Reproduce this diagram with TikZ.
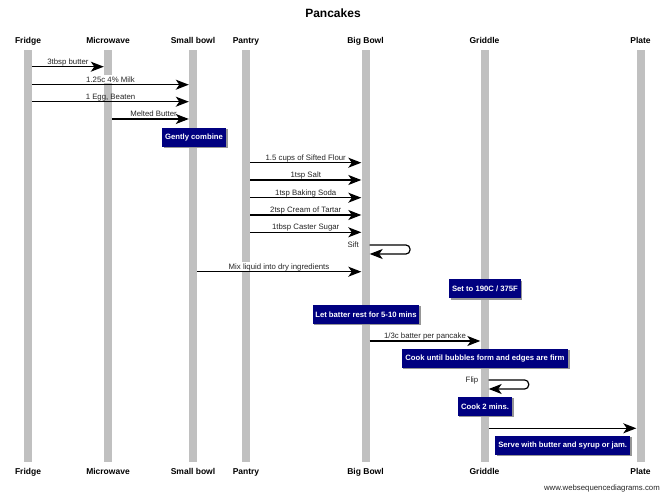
\documentclass[tikz,border=0pt]{standalone}
\usepackage{fontspec}
\setmainfont{Liberation Sans}
\usetikzlibrary{arrows.meta}
\definecolor{lifegray}{RGB}{192,192,192}
\definecolor{notenavy}{RGB}{0,0,128}
\definecolor{shadowgray}{RGB}{150,150,150}
\tikzset{
  lifeline/.style={rectangle,fill=lifegray,draw=none,minimum width=8pt,minimum height=412pt,inner sep=0pt},
  actorlabel/.style={font=\fontsize{8.5}{10}\selectfont\bfseries,inner sep=0pt,anchor=base},
  msg/.style={draw=black,line width=1.2pt,-{Stealth[length=13pt,width=10pt,inset=3.5pt]}},
  msglabel/.style={font=\fontsize{7.8}{9}\selectfont,inner sep=0pt,anchor=base,text=black!85},
  onmsg/.style={msglabel,yshift=2.6pt},
  msgbg/.style={msglabel,fill=white,inner sep=1pt},
  notebox/.style={rectangle,fill=notenavy,text=white,font=\fontsize{7.7}{9}\selectfont\bfseries,minimum height=19pt,inner sep=0pt},
  noteshadow/.style={fill=shadowgray,draw=none}
}
\begin{document}
\begin{tikzpicture}[x=1pt,y=-1pt]
\useasboundingbox (0,0) rectangle (665,497);
\fill[white] (0,0) rectangle (665,497);

% title
\node[font=\fontsize{12}{14}\selectfont\bfseries,inner sep=0pt,anchor=base] (title) at (333,17.5) {Pancakes};

% lifelines
\node[lifeline] (fr) at (28,256) {};
\node[lifeline] (mw) at (108,256) {};
\node[lifeline] (sb) at (193,256) {};
\node[lifeline] (pa) at (246,256) {};
\node[lifeline] (bb) at (365.5,256) {};
\node[lifeline] (gr) at (484.5,256) {};
\node[lifeline] (pl) at (640.5,256) {};

% top labels
\node[actorlabel] (frT) at (28,43.7) {Fridge};
\node[actorlabel] (mwT) at (108,43.7) {Microwave};
\node[actorlabel] (sbT) at (193,43.7) {Small bowl};
\node[actorlabel] (paT) at (246,43.7) {Pantry};
\node[actorlabel] (bbT) at (365.5,43.7) {Big Bowl};
\node[actorlabel] (grT) at (484.5,43.7) {Griddle};
\node[actorlabel] (plT) at (640.5,43.7) {Plate};
% bottom labels
\node[actorlabel] (frB) at (28,475) {Fridge};
\node[actorlabel] (mwB) at (108,475) {Microwave};
\node[actorlabel] (sbB) at (193,475) {Small bowl};
\node[actorlabel] (paB) at (246,475) {Pantry};
\node[actorlabel] (bbB) at (365.5,475) {Big Bowl};
\node[actorlabel] (grB) at (484.5,475) {Griddle};
\node[actorlabel] (plB) at (640.5,475) {Plate};

% message rows
\coordinate (r1) at (0,66.7);
\coordinate (r2) at (0,84.7);
\coordinate (r3) at (0,101.7);
\coordinate (r4) at (0,119);
\coordinate (r5) at (0,162.7);
\coordinate (r6) at (0,180);
\coordinate (r7) at (0,197.7);
\coordinate (r8) at (0,215);
\coordinate (r9) at (0,232.3);
\coordinate (r10) at (0,271.7);
\coordinate (r11) at (0,341);
\coordinate (r12) at (0,428.3);

% labels with white background (interrupt lifelines)
\node[msgbg] (l2) at (110.5,82.1) {1.25c 4\% Milk};
\node[msgbg] (l10) at (279,269.1) {Mix liquid into dry ingredients};

\draw[msg] (fr.east |- r1) -- node[onmsg] (l1) {3tbsp butter} (mw.west |- r1);
\draw[msg] (fr.east |- r2) -- (sb.west |- r2);
\draw[msg] (fr.east |- r3) -- node[onmsg] (l3) {1 Egg, Beaten} (sb.west |- r3);
\draw[msg] (mw.east |- r4) -- node[onmsg,xshift=3pt] (l4) {Melted Butter} (sb.west |- r4);

\fill[noteshadow] (163.5,129.5) rectangle (227.5,148.5);
\node[notebox,minimum width=64pt] (n1) at (194,137.5) {Gently combine};

\draw[msg] (pa.east |- r5) -- node[onmsg] (l5) {1.5 cups of Sifted Flour} (bb.west |- r5);
\draw[msg] (pa.east |- r6) -- node[onmsg] (l6) {1tsp Salt} (bb.west |- r6);
\draw[msg] (pa.east |- r7) -- node[onmsg] (l7) {1tsp Baking Soda} (bb.west |- r7);
\draw[msg] (pa.east |- r8) -- node[onmsg] (l8) {2tsp Cream of Tartar} (bb.west |- r8);
\draw[msg] (pa.east |- r9) -- node[onmsg] (l9) {1tbsp Caster Sugar} (bb.west |- r9);

% Sift self message
\coordinate (s1) at (bb.east |- {0,245});
\coordinate (s2) at (410,245);
\coordinate (s3) at (410,254);
\coordinate (s4) at (bb.east |- {0,254});
\draw[msg,rounded corners=4pt] (s1) -- (s2) -- (s3) -- (s4);
\node[msglabel,anchor=base east] (sift) at (359,248) {Sift};

\draw[msg] (sb.east |- r10) -- (bb.west |- r10);

\fill[noteshadow] (450.5,280.8) rectangle (522.2,299.8);
\node[notebox,minimum width=71.7pt] (n2) at (485,288.8) {Set to 190C / 375F};

\fill[noteshadow] (314.2,306.5) rectangle (420.5,325.5);
\node[notebox,minimum width=106.3pt] (n3) at (366,315) {Let batter rest for 5-10 mins};

\draw[msg] (bb.east |- r11) -- node[onmsg] (l11) {1/3c batter per pancake} (gr.west |- r11);

\fill[noteshadow] (403.2,350.3) rectangle (569.8,369.3);
\node[notebox,minimum width=166.6pt] (n4) at (485,358.8) {Cook until bubbles form and edges are firm};

% Flip self message
\coordinate (f1) at (gr.east |- {0,380});
\coordinate (f2) at (528.7,380);
\coordinate (f3) at (528.7,389);
\coordinate (f4) at (gr.east |- {0,389});
\draw[msg,rounded corners=4pt] (f1) -- (f2) -- (f3) -- (f4);
\node[msglabel,anchor=base east] (flip) at (478.5,383) {Flip};

\fill[noteshadow] (459.2,398.2) rectangle (513.5,417.2);
\node[notebox,minimum width=54.3pt] (n5) at (485,406.7) {Cook 2 mins.};

\draw[msg] (gr.east |- r12) -- (pl.west |- r12);

\fill[noteshadow] (496.5,437.2) rectangle (631.8,456.2);
\node[notebox,minimum width=135.3pt] (n6) at (562.7,445.7) {Serve with butter and syrup or jam.};

% footer
\node[font=\fontsize{7.8}{9}\selectfont,inner sep=0pt,anchor=base east,text=black!85] (footer) at (660,490) {www.websequencediagrams.com};
\end{tikzpicture}
\end{document}
